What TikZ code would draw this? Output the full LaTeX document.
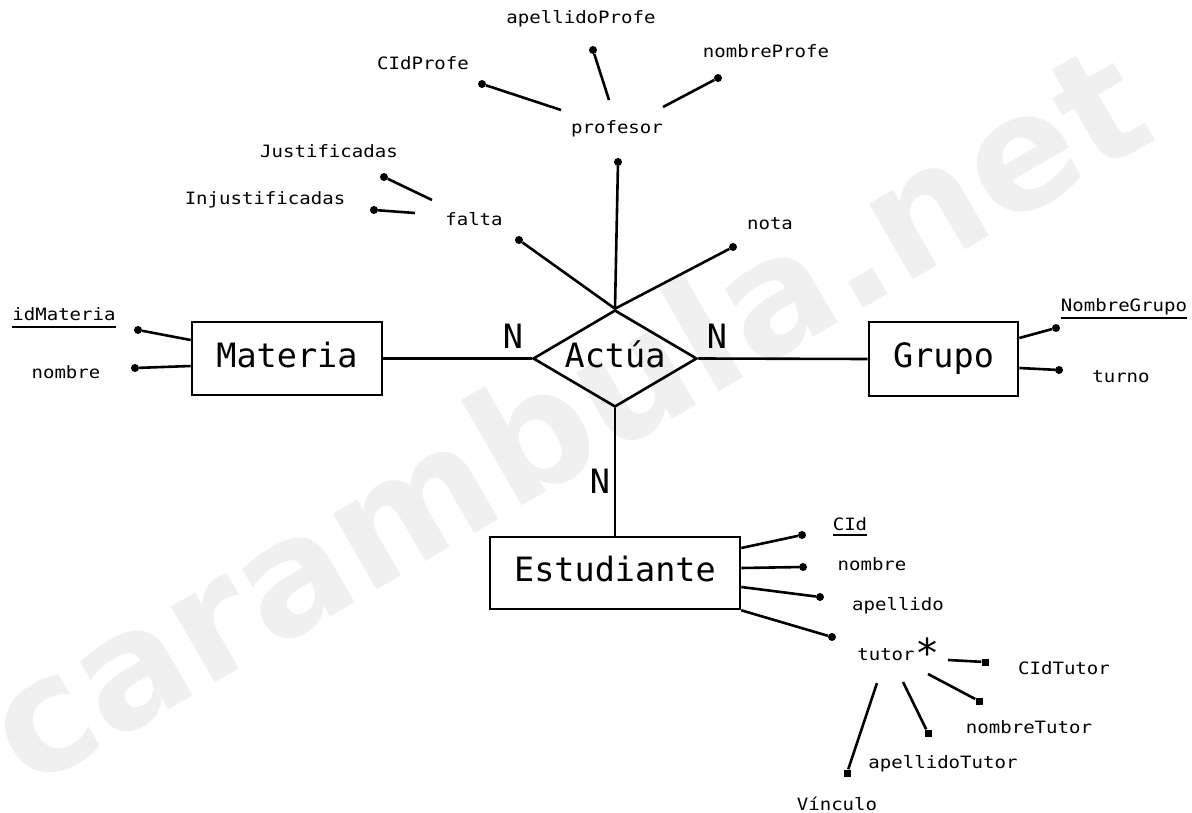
\documentclass[tikz,border=0pt]{standalone}
\usepackage{fontspec}
\usetikzlibrary{shapes.geometric}
\newfontfamily\monosm[FakeStretch=1.12]{DejaVu Sans Mono}
\newfontfamily\monobig{DejaVu Sans Mono}
\newfontfamily\wmfont{DejaVu Sans}
\definecolor{wmgray}{HTML}{F0F0F0}
\newcommand\smlab{\monosm\fontsize{17}{20}\selectfont}
\newcommand\biglab{\monobig\fontsize{33.5}{40}\selectfont}
\begin{document}
\begin{tikzpicture}[x=1pt,y=-1pt,
  conn/.style={line width=2.6pt},
  ulline/.style={line width=2pt},
  entity/.style={draw,line width=2.6pt,font=\biglab,inner sep=0pt,text height=25pt,text depth=8pt},
  rel/.style={draw,diamond,line width=2.6pt,inner sep=0pt,minimum width=164pt,minimum height=97pt},
  attr/.style={font=\smlab,anchor=base,inner sep=0pt},
  card/.style={font=\biglab,anchor=base,inner sep=0pt},
  dot/.style={circle,fill=black,inner sep=0pt,minimum size=8pt},
  sqdot/.style={rectangle,fill=black,inner sep=0pt,minimum size=7pt},
  watermark/.style={font=\wmfont\bfseries\fontsize{160}{160}\selectfont,text=wmgray,anchor=base west,inner sep=0pt,rotate=30}]
\useasboundingbox (0,0) rectangle (1192,813);
\fill[white] (0,0) rectangle (1192,813);
\node[watermark] (wm) at (28,791) {carambula.net};

% entities and relationship
\node[entity,minimum width=190pt,minimum height=73pt] (materia) at (287,358.5) {Materia};
\node[entity,minimum width=149pt,minimum height=74pt] (grupo) at (943.5,359) {Grupo};
\node[entity,minimum width=250pt,minimum height=72pt] (estudiante) at (615,573) {Estudiante};
\node[rel] (actua) at (615,358.5) {};
\node[card] (actualab) at (615,367) {Actúa};

% cardinalities
\node[card] (n1) at (513,348) {N};
\node[card] (n2) at (717,348) {N};
\node[card] (n3) at (600,493) {N};

% attribute texts
\node[attr] (apeP) at (581,24) {apellidoProfe};
\node[attr] (cidP) at (423,70) {CIdProfe};
\node[attr] (nomP) at (766,58) {nombreProfe};
\node[attr] (prof) at (617,134) {profesor};
\node[attr] (just) at (329,158) {Justificadas};
\node[attr] (injust) at (265,205) {Injustificadas};
\node[attr] (falta) at (474,226) {falta};
\node[attr] (nota) at (770,230) {nota};
\node[attr] (idm) at (64,320) {idMateria};
\node[attr] (nomM) at (66,378) {nombre};
\node[attr] (ng) at (1124,312) {NombreGrupo};
\node[attr] (turno) at (1121,382) {turno};
\node[attr] (cid) at (850,530) {CId};
\node[attr] (nomE) at (872,570) {nombre};
\node[attr] (apeE) at (898,610) {apellido};
\node[attr] (tutor) at (886,660) {tutor};
\node[font=\monobig\fontsize{40}{40}\selectfont,anchor=base,inner sep=0pt] (star) at (928,667) {*};
\node[attr] (cidT) at (1064,674) {CIdTutor};
\node[attr] (nomT) at (1029,733) {nombreTutor};
\node[attr] (apeT) at (943,768) {apellidoTutor};
\node[attr] (vin) at (837,810) {Vínculo};

% underlines of keys
\draw[ulline] ([yshift=-7pt]idm.base west) -- ([yshift=-7pt]idm.base east);
\draw[ulline] ([yshift=-6pt]ng.base west) -- ([yshift=-6pt]ng.base east);
\draw[ulline] ([yshift=-5pt]cid.base west) -- ([yshift=-5pt]cid.base east);

% dots
\node[dot] (dJust) at (384,177) {};
\node[dot] (dInj) at (374,210) {};
\node[dot] (dCidP) at (482,84) {};
\node[dot] (dApeP) at (593,50) {};
\node[dot] (dNomP) at (718,78) {};
\node[dot] (dProf) at (618,162) {};
\node[dot] (dFalta) at (519,240) {};
\node[dot] (dNota) at (733,247) {};
\node[dot] (dIdm) at (138,330) {};
\node[dot] (dNomM) at (135,368) {};
\node[dot] (dNg) at (1056,328) {};
\node[dot] (dTurno) at (1059,370) {};
\node[dot] (dCid) at (802,535) {};
\node[dot] (dNomE) at (803,567) {};
\node[dot] (dApeE) at (820,597) {};
\node[dot] (dTutor) at (832,637) {};
\node[sqdot] (dCidT) at (985,662) {};
\node[sqdot] (dNomT) at (979,701) {};
\node[sqdot] (dApeT) at (928,733) {};
\node[sqdot] (dVin) at (847,773) {};

% free ends near texts
\coordinate (cJust) at (432,200);
\coordinate (cInj) at (415,213);
\coordinate (cCidP) at (561,110);
\coordinate (cApeP) at (609,100);
\coordinate (cNomP) at (663,107);
\coordinate (cCidT) at (948,660);
\coordinate (cNomT) at (928,674);
\coordinate (cApeT) at (903,682);
\coordinate (cVin) at (877,683);

% relationship connectors
\draw[conn] (materia.east) -- (actua.west);
\draw[conn] (actua.east) -- (grupo.west);
\draw[conn] (actua.south) -- (estudiante.north);
\draw[conn] (actua.north) -- (dProf);
\draw[conn] (actua.north) -- (dFalta);
\draw[conn] (actua.north) -- (dNota);

% attribute connectors
\draw[conn] (dJust) -- (cJust);
\draw[conn] (dInj) -- (cInj);
\draw[conn] (dCidP) -- (cCidP);
\draw[conn] (dApeP) -- (cApeP);
\draw[conn] (dNomP) -- (cNomP);
\draw[conn] (dIdm) -- ([yshift=18.5pt]materia.west);
\draw[conn] (dNomM) -- ([yshift=-7.5pt]materia.west);
\draw[conn] (dNg) -- ([yshift=21pt]grupo.east);
\draw[conn] (dTurno) -- ([yshift=-9pt]grupo.east);
\draw[conn] (dCid) -- ([yshift=25pt]estudiante.east);
\draw[conn] (dNomE) -- ([yshift=5pt]estudiante.east);
\draw[conn] (dApeE) -- ([yshift=-14pt]estudiante.east);
\draw[conn] (dTutor) -- (estudiante.south east);
\draw[conn] (cCidT) -- (dCidT);
\draw[conn] (cNomT) -- (dNomT);
\draw[conn] (cApeT) -- (dApeT);
\draw[conn] (cVin) -- (dVin);
\end{tikzpicture}
\end{document}
